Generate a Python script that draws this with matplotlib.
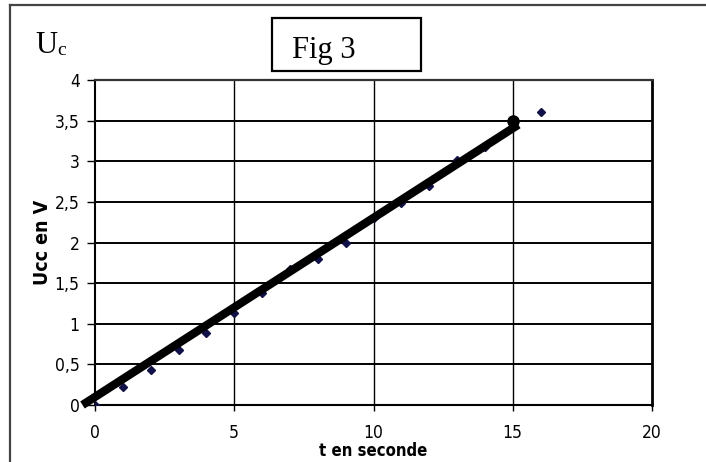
import numpy as np
import matplotlib.pyplot as plt
from matplotlib.lines import Line2D
from matplotlib.patches import Rectangle

# measured points (t in s, Ucc in V)
t = [0, 1, 2, 3, 4, 5, 6, 7, 8, 9, 10, 11, 12, 13, 14, 15, 16]
u = [0, 0.22, 0.43, 0.68, 0.89, 1.13, 1.38, 1.68, 1.8, 2.0, 2.3, 2.49, 2.7, 3.02, 3.18, 3.45, 3.61]

# hand drawn straight line + end dot
fit_t = [-0.45, 15.2]
fit_u = [0.0, 3.45]
dot_t = [15]
dot_u = [3.5]

x_ticks = [0, 5, 10, 15, 20]
y_ticks = [0, 0.5, 1, 1.5, 2, 2.5, 3, 3.5, 4]
y_labels = ['0', '0,5', '1', '1,5', '2', '2,5', '3', '3,5', '4']

narrow = ['DejaVu Sans']
serif = ['Liberation Serif', 'DejaVu Serif']

W, H = 706, 462
fig = plt.figure(figsize=(W/100, H/100), dpi=100)
ax = fig.add_axes([95/W, 1-405/H, (652-95)/W, (405-80)/H])

ax.plot(t, u, linestyle='none', marker='D', markersize=4, color='#10104a', zorder=3)
ax.plot(fit_t, fit_u, color='black', linewidth=6, solid_capstyle='butt', zorder=4, clip_on=False)
ax.plot(dot_t, dot_u, 'o', color='black', markersize=8, zorder=5)

ax.set_xlim(0, 20)
ax.set_ylim(0, 4)
ax.set_xticks(x_ticks)
ax.set_yticks(y_ticks)
ax.set_yticklabels(y_labels)

for v in y_ticks[1:-1]:
    ax.axhline(v, color='black', linewidth=1.4, zorder=1)
for v in x_ticks[1:-1]:
    ax.axvline(v, color='black', linewidth=1.0, zorder=1)

for s in ['left', 'bottom']:
    ax.spines[s].set_linewidth(1.5)
ax.spines['top'].set_linewidth(1.6)
ax.spines['top'].set_color('#333333')
ax.spines['right'].set_linewidth(2.0)

ax.tick_params(axis='x', length=4, width=1, pad=10, labelsize=12.5)
ax.tick_params(axis='y', length=6, width=1, pad=5, labelsize=12.5)
for lab in ax.get_xticklabels() + ax.get_yticklabels():
    lab.set_family(narrow)
    lab.set_stretch('condensed')

ax.set_xlabel('t en seconde', family=narrow, fontweight='bold', fontsize=12, stretch='condensed')
ax.xaxis.set_label_coords(0.5, -0.113)
ax.set_ylabel('Ucc en V', family=narrow, fontweight='bold', fontsize=14, va='center', stretch='condensed')
ax.yaxis.set_label_coords(-0.095, 0.5)

# outer frame (only top and left visible)
fig.add_artist(Line2D([9.5/W, 9.5/W], [0, 1-5/H], color='#444444', linewidth=1.6))
fig.add_artist(Line2D([9.5/W, 1], [1-5/H, 1-5/H], color='#444444', linewidth=1.6))

# U_c
fig.text(35/W, 1-53/H, 'U', family=serif, fontsize=22, va='baseline')
fig.text(57/W, 1-55/H, 'c', family=serif, fontsize=14, va='baseline')

# Fig 3 box
fig.add_artist(Rectangle((272/W, 1-71/H), (421-272)/W, (71-18)/H, fill=False,
                         edgecolor='black', linewidth=1.6, transform=fig.transFigure))
fig.text(292/W, 1-58/H, 'Fig 3', family=serif, fontsize=22, va='baseline')

plt.savefig('out.png', dpi=100)
